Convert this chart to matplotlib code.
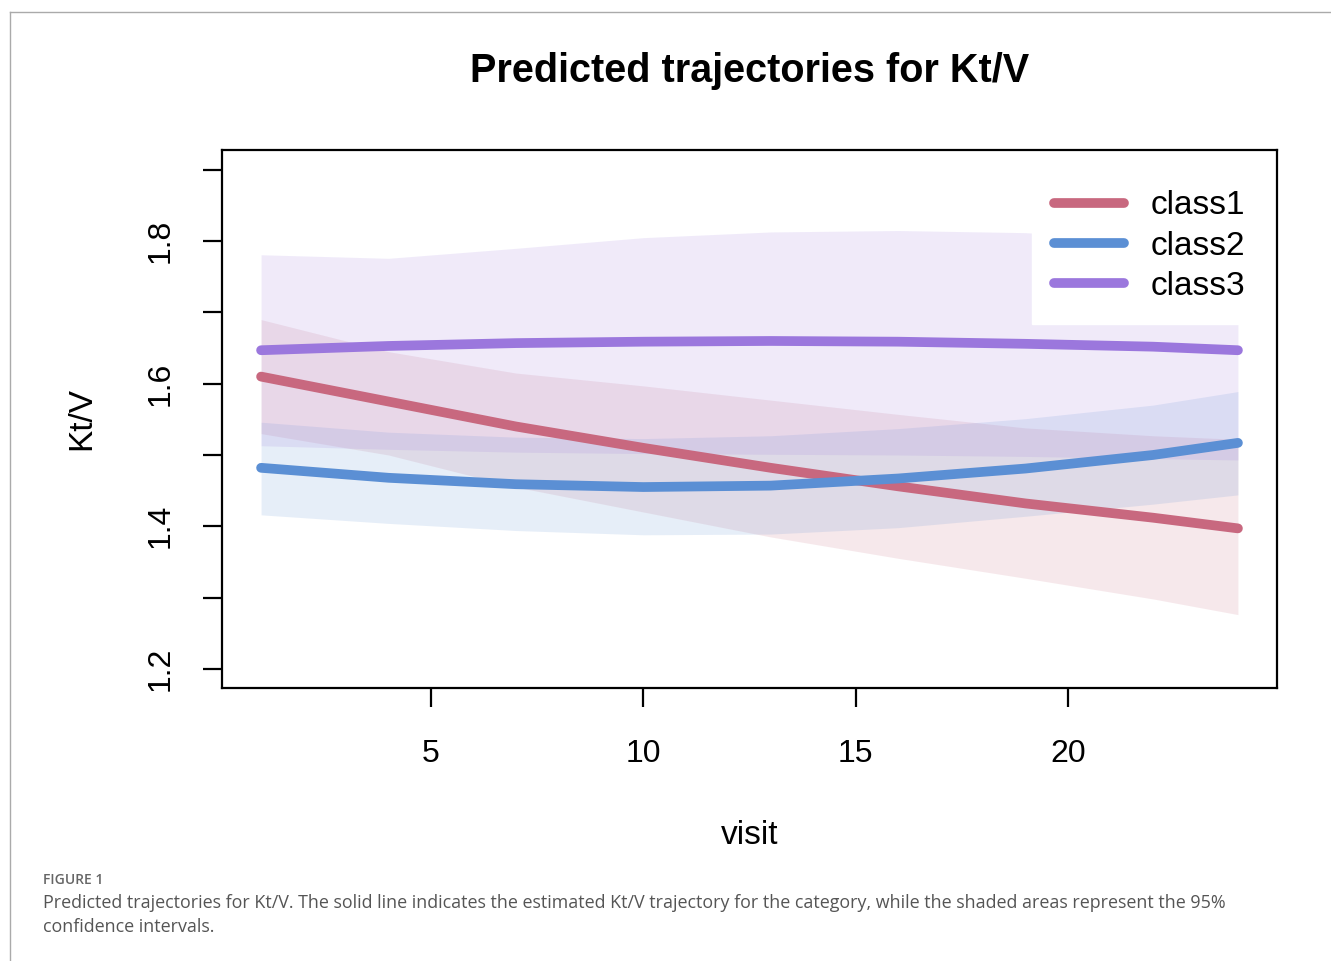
import numpy as np
import matplotlib.pyplot as plt
from matplotlib.lines import Line2D

plt.rcParams['font.family'] = ['Liberation Sans', 'DejaVu Sans']

visit = [1, 4, 7, 10, 13, 16, 19, 22, 24]

# class1
c1_fit = [1.610, 1.575, 1.540, 1.510, 1.482, 1.456, 1.432, 1.412, 1.397]
c1_up = [1.690, 1.645, 1.615, 1.597, 1.577, 1.557, 1.538, 1.527, 1.522]
c1_lo = [1.530, 1.500, 1.455, 1.420, 1.385, 1.355, 1.327, 1.298, 1.276]

# class2
c2_fit = [1.482, 1.468, 1.459, 1.455, 1.457, 1.467, 1.481, 1.500, 1.517]
c2_up = [1.546, 1.532, 1.525, 1.523, 1.527, 1.537, 1.551, 1.570, 1.589]
c2_lo = [1.416, 1.404, 1.394, 1.388, 1.389, 1.398, 1.414, 1.431, 1.444]

# class3
c3_fit = [1.647, 1.653, 1.657, 1.659, 1.660, 1.659, 1.656, 1.652, 1.647]
c3_up = [1.781, 1.776, 1.790, 1.805, 1.813, 1.815, 1.812, 1.800, 1.790]
c3_lo = [1.513, 1.508, 1.504, 1.502, 1.501, 1.500, 1.498, 1.495, 1.493]

labels = ['class1', 'class2', 'class3']
colors = ['#c8687f', '#5b8fd4', '#9b77dd']

fig = plt.figure(figsize=(13.31, 9.61), dpi=100)
ax = fig.add_axes([222/1331, 1-688/961, (1277-222)/1331, (688-150)/961])

fits = [c1_fit, c2_fit, c3_fit]
ups = [c1_up, c2_up, c3_up]
los = [c1_lo, c2_lo, c3_lo]

for lo, up, col in zip(los, ups, colors):
    ax.fill_between(visit, lo, up, color=col, alpha=0.15, linewidth=0)

for fit, col, lab in zip(fits, colors, labels):
    ax.plot(visit, fit, color=col, linewidth=7, solid_capstyle='round', label=lab)

ax.set_xlim(0.08, 24.92)
ax.set_ylim(1.173, 1.928)

ax.set_xticks([5, 10, 15, 20])
yt = [1.2, 1.3, 1.4, 1.5, 1.6, 1.7, 1.8, 1.9]
ax.set_yticks(yt)
ax.set_yticklabels(['1.2', '', '1.4', '', '1.6', '', '1.8', ''], rotation=90, va='center')
ax.tick_params(axis='both', length=13.5, width=1.6, labelsize=23)
ax.tick_params(axis='x', pad=23)
ax.tick_params(axis='y', pad=20)
for s in ax.spines.values():
    s.set_linewidth(1.6)

ax.set_xlabel('visit', fontsize=24, labelpad=37)
ax.set_ylabel('Kt/V', fontsize=24, labelpad=35)
ax.set_title('Predicted trajectories for Kt/V', fontsize=28.5, fontweight='bold', pad=49)

leg = ax.legend(loc='upper right', bbox_to_anchor=(1 - 9/1055, 1 - 18/538),
                fontsize=24, frameon=True, facecolor='white',
                edgecolor='white', framealpha=1, fancybox=False,
                handlelength=2.1, handletextpad=0.8, labelspacing=0.28,
                borderaxespad=0, borderpad=0.67)
leg.set_zorder(2.2)

# page border
fig.add_artist(Line2D([10/1331, 10/1331], [0, 1-12/961], color='#aaaaaa', linewidth=1))
fig.add_artist(Line2D([10/1331, 1], [1-12/961, 1-12/961], color='#aaaaaa', linewidth=1))

fig.text(43/1331, 1-880/961, 'FIGURE 1', fontsize=10, color='#666666',
         family=['Open Sans', 'DejaVu Sans'], fontweight='semibold', va='center')
fig.text(43/1331, 1-903/961,
         'Predicted trajectories for Kt/V. The solid line indicates the estimated Kt/V trajectory '
         'for the category, while the shaded areas represent the 95%',
         fontsize=12.85, color='#555555', family=['Open Sans', 'DejaVu Sans'], va='center')
fig.text(43/1331, 1-927/961, 'confidence intervals.',
         fontsize=12.85, color='#555555', family=['Open Sans', 'DejaVu Sans'], va='center')

plt.savefig('out.png', dpi=100)
